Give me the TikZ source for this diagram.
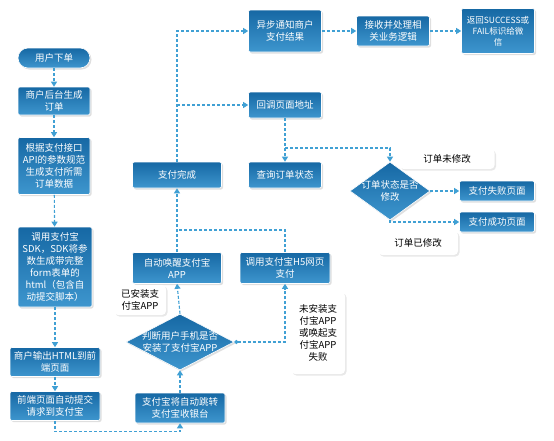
\documentclass[tikz,border=0pt]{standalone}
\usepackage{fontspec}
\setmainfont{Noto Sans CJK SC}
\usetikzlibrary{shapes.geometric,arrows.meta,shadows,positioning}

\definecolor{boxtop}{RGB}{22,104,164}
\definecolor{boxbot}{RGB}{62,150,206}
\definecolor{flowblue}{RGB}{64,160,212}

\tikzset{
  stepbox/.style={rectangle, rounded corners=2pt, draw=white, line width=0.6pt,
    top color=boxtop, bottom color=boxbot, text=white, align=center,
    font=\fontsize{9.5}{12}\selectfont, inner sep=1pt,
    drop shadow={opacity=0.25, shadow xshift=1.5pt, shadow yshift=-1.5pt}},
  judge/.style={diamond, draw=white, line width=0.6pt, inner sep=0pt,
    top color=boxtop, bottom color=boxbot,
    drop shadow={opacity=0.25, shadow xshift=1.5pt, shadow yshift=-1.5pt}},
  judgetext/.style={text=white, align=center, font=\fontsize{9.5}{12}\selectfont},
  note/.style={rectangle, rounded corners=4pt, fill=white, align=center,
    font=\fontsize{9.5}{12}\selectfont, inner sep=1pt,
    drop shadow={opacity=0.18, shadow xshift=1.5pt, shadow yshift=-1.5pt}},
  link/.style={flowblue, line width=1.1pt, dash pattern=on 3pt off 2pt},
  flow/.style={link, -{Triangle[width=6pt,length=5pt]}},
}

\begin{document}
\begin{tikzpicture}[x=1pt,y=-1pt]
\fill[white] (0,0) rectangle (554,440);
\useasboundingbox (0,0) rectangle (554,440);

% left column
\node[stepbox, rounded corners=10pt, minimum width=72, minimum height=20] (order) at (54,58) {用户下单};
\node[stepbox, minimum width=72, minimum height=28] (gen) at (54,101) {商户后台生成\\订单};
\node[stepbox, minimum width=72, minimum height=57] (data) at (54,166) {根据支付接口\\API的参数规范\\生成支付所需\\订单数据};
\node[stepbox, minimum width=74, minimum height=80] (sdk) at (55,267) {调用支付宝\\SDK，SDK将参\\数生成带完整\\form表单的\\html（包含自\\动提交脚本）};
\node[stepbox, minimum width=90, minimum height=29] (html) at (55,362) {商户输出HTML到前\\端页面};
\node[stepbox, minimum width=90, minimum height=29] (post) at (55,406) {前端页面自动提交\\请求到支付宝};

% middle column
\node[stepbox, minimum width=90, minimum height=30] (cashier) at (180,408) {支付宝将自动跳转\\支付宝收银台};
\node[judge, minimum width=108, minimum height=56] (chk) at (180,342) {};
\node[judgetext] at (chk) {判断用户手机是否\\安装了支付宝APP};
\node[stepbox, minimum width=89, minimum height=31] (app) at (177,268) {自动唤醒支付宝\\APP};
\node[stepbox, minimum width=90, minimum height=31] (h5) at (285,268) {调用支付宝H5网页\\支付};
\node[stepbox, minimum width=89, minimum height=26] (done) at (177,175) {支付完成};

\node[note, minimum width=52, minimum height=30] (yes) at (140,300) {已安装支\\付宝APP};
\node[note, minimum width=54, minimum height=82] (no) at (318,333) {未安装支\\付宝APP\\或唤起支\\付宝APP\\失败};

% right part
\node[stepbox, minimum width=73, minimum height=42] (notify) at (285,31) {异步通知商户\\支付结果};
\node[stepbox, minimum width=73, minimum height=30] (handle) at (393,31) {接收并处理相\\关业务逻辑};
\node[stepbox, minimum width=73, minimum height=45, font=\fontsize{8.5}{11}\selectfont] (ret) at (498,31) {返回SUCCESS或\\FAIL标识给微\\信};
\node[stepbox, minimum width=73, minimum height=26] (back) at (285,105) {回调页面地址};
\node[stepbox, minimum width=73, minimum height=26] (query) at (285,175) {查询订单状态};
\node[judge, minimum width=80, minimum height=58] (state) at (390,191) {};
\node[judgetext] at (state) {订单状态是否\\修改};
\node[stepbox, minimum width=75, minimum height=20] (fail) at (497,191) {支付失败页面};
\node[stepbox, minimum width=75, minimum height=20] (ok) at (497,222) {支付成功页面};

\node[note, minimum width=95, minimum height=20] (unmod) at (447,159) {订单未修改};
\node[note, minimum width=80, minimum height=24] (mod) at (418,243) {订单已修改};

\coordinate (m1) at (177,230);
\coordinate (m2) at (285,148);

% connectors
\draw[flow] (order) -- (gen);
\draw[flow] (gen) -- (data);
\draw[flow] (data) -- (sdk);
\draw[flow] (sdk) -- (html);
\draw[flow] (html) -- (post);
\draw[flow] (post.south) -- ++(0,11) -| (cashier.south);
\draw[flow] (cashier.north) -- (chk.south);
\draw[flow] (chk.north) -- (app.south);
\draw[flow, {Circle[length=4pt]}-{Triangle[width=6pt,length=5pt]}] (chk.east) -| (h5.south);
\draw[flow] (app.north) -- (done.south);
\draw[link] (h5.north) |- (m1);
\draw[flow] (done.north) |- (notify.west);
\draw[flow] (done.north |- back.west) -- (back.west);
\draw[flow] (notify) -- (handle);
\draw[flow] (handle) -- (ret);
\draw[flow] (back) -- (query);
\draw[flow] (m2) -| (state.north);
\draw[flow] (state.east) -- (fail.west);
\draw[flow] (state.south) |- (ok.west);
\end{tikzpicture}
\end{document}
